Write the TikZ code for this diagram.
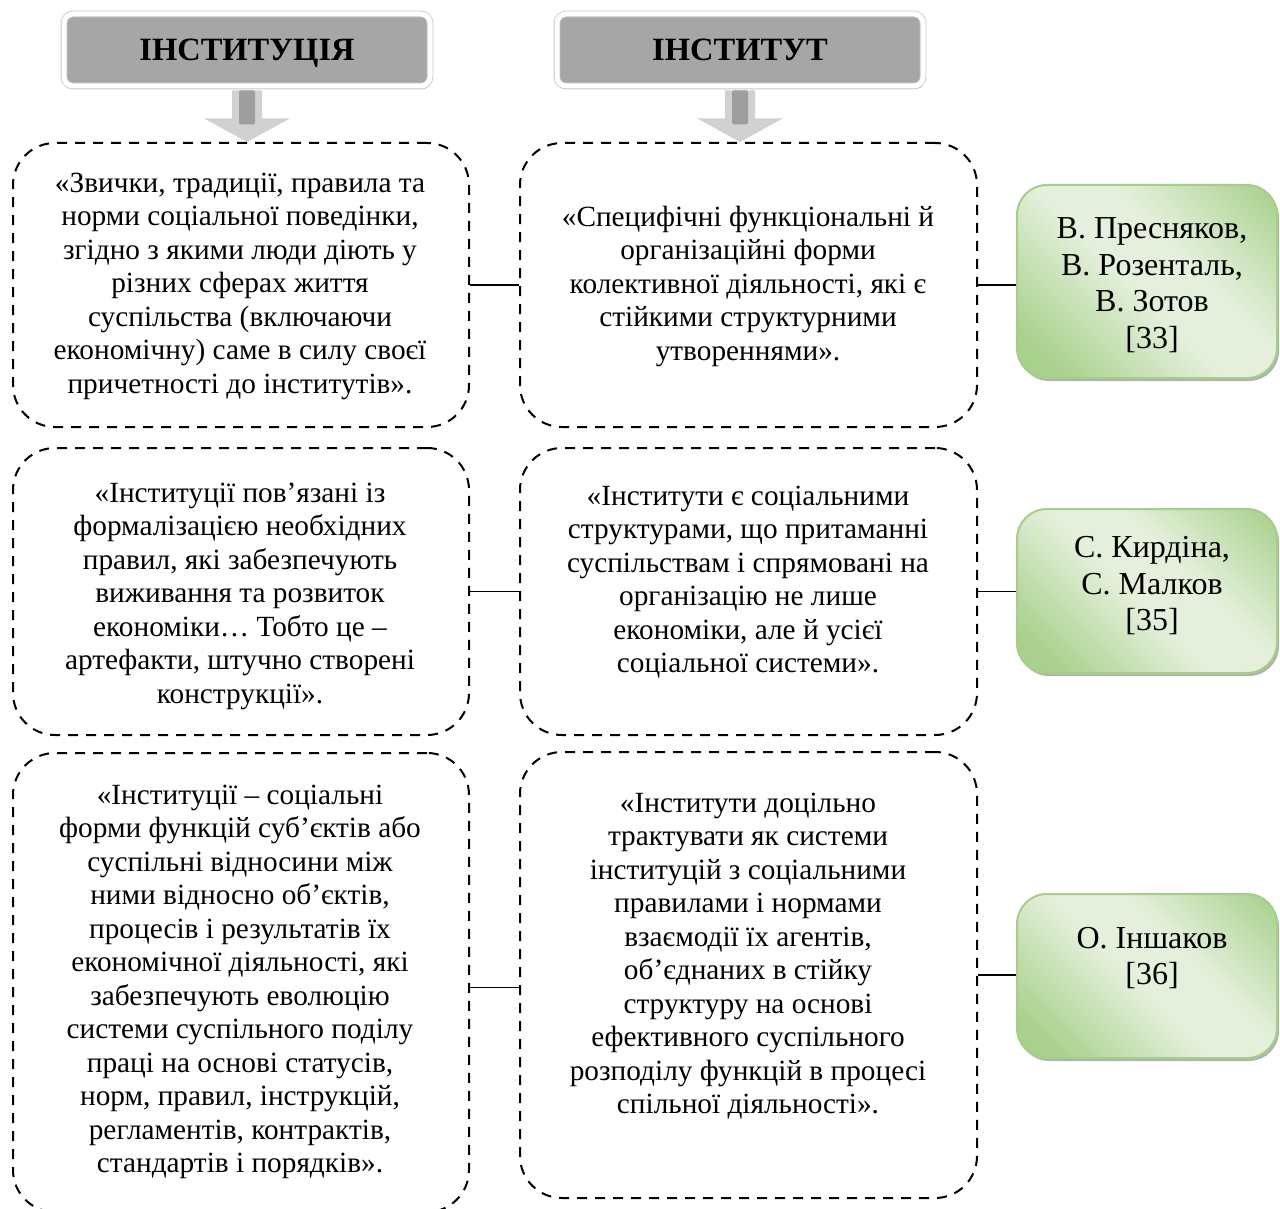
\documentclass[tikz,border=0pt]{standalone}
\usepackage{fontspec}
\setmainfont{Liberation Serif}
\usetikzlibrary{shadows,calc}
\definecolor{hdrgray}{HTML}{A6A6A6}
\definecolor{gdark}{HTML}{A9D18E}
\definecolor{glight}{HTML}{E4F0DB}
\definecolor{gborder}{HTML}{A3CF88}
\pgfdeclarehorizontalshading{greenband}{100bp}{color(0bp)=(gdark); color(22bp)=(gdark); color(47bp)=(glight); color(60bp)=(glight); color(84bp)=(gdark); color(100bp)=(gdark)}
\tikzset{
  txt/.style={font=\fontsize{29.3}{33.5}\selectfont, align=center, inner sep=0pt},
  gtxt/.style={font=\fontsize{32}{36.5}\selectfont, align=center, inner sep=0pt},
  hdr/.style={draw=black!22, line width=0.8pt, double=white, double distance=5pt, fill=hdrgray, rounded corners=9pt,
    minimum width=366pt, minimum height=72pt, text height=22pt, text depth=0pt,
    font=\bfseries\fontsize{32.5}{36}\selectfont,
    drop shadow={shadow xshift=1.5pt, shadow yshift=-3pt, fill=black!45, opacity=0.7}},
  dbox/.style={draw=black, line width=2pt, dash pattern=on 10pt off 8pt, rounded corners=42pt, inner sep=0pt},
  gbox/.style={draw=gborder, line width=2pt, rounded corners=30pt, shading=greenband, shading angle=45, inner sep=0pt,
    minimum width=260pt, drop shadow={shadow xshift=2pt, shadow yshift=-3pt, fill=black!50, opacity=0.6}},
  conn/.style={draw=black, line width=1.6pt},
  arrowout/.style={fill=black!18},
  arrowin/.style={fill=black!38}
}
\begin{document}
\begin{tikzpicture}[x=1pt,y=-1pt]
\useasboundingbox (0,0) rectangle (1280,1209);
\clip (0,0) rectangle (1280,1209);
\fill[white] (0,0) rectangle (1280,1209);

% headers
\node[hdr] (H1) at (247,50) {ІНСТИТУЦІЯ};
\node[hdr] (H2) at (740,50) {ІНСТИТУТ};

% dashed boxes
\node[dbox, minimum width=456pt, minimum height=284pt] (L1) at (241,285) {};
\node[dbox, minimum width=457pt, minimum height=284pt] (R1) at (748.5,285) {};
\node[dbox, minimum width=456pt, minimum height=287pt] (L2) at (241,591.5) {};
\node[dbox, minimum width=457pt, minimum height=287pt] (R2) at (748.5,591.5) {};
\node[dbox, minimum width=456pt, minimum height=459pt] (L3) at (241,982.5) {};
\node[dbox, minimum width=457pt, minimum height=446pt] (R3) at (748.5,975) {};

% block arrows
\foreach \h/\b in {H1/L1, H2/R1}{
  \fill[arrowout] ($(\h.south)+(-15,4)$) -- ($(\h.south)+(15,4)$) -- ($(\h.south)+(15,32)$)
     -- ($(\h.south)+(43,32)$) -- (\h.south |- \b.north) -- ($(\h.south)+(-43,32)$)
     -- ($(\h.south)+(-15,32)$) -- cycle;
  \fill[arrowin, rounded corners=2pt] ($(\h.south)+(-8,4)$) rectangle ($(\h.south)+(8,38)$);
}

% quote texts
\node[txt] (tL1) at (240,286) {«Звички, традиції, правила та\\норми соціальної поведінки,\\згідно з якими люди діють у\\різних сферах життя\\суспільства (включаючи\\економічну) саме в силу своєї\\причетності до інститутів».};
\node[txt] (tR1) at (748,286) {«Специфічні функціональні й\\організаційні форми\\колективної діяльності, які є\\стійкими структурними\\утвореннями».};
\node[txt] (tL2) at (240,596) {«Інституції пов’язані із\\формалізацією необхідних\\правил, які забезпечують\\виживання та розвиток\\економіки… Тобто це –\\артефакти, штучно створені\\конструкції».};
\node[txt] (tR2) at (748,582) {«Інститути є соціальними\\структурами, що притаманні\\суспільствам і спрямовані на\\організацію не лише\\економіки, але й усієї\\соціальної системи».};
\node[txt] (tL3) at (240,982) {«Інституції – соціальні\\форми функцій суб’єктів або\\суспільні відносини між\\ними відносно об’єктів,\\процесів і результатів їх\\економічної діяльності, які\\забезпечують еволюцію\\системи суспільного поділу\\праці на основі статусів,\\норм, правил, інструкцій,\\регламентів, контрактів,\\стандартів і порядків».};
\node[txt] (tR3) at (748,956) {«Інститути доцільно\\трактувати як системи\\інституцій з соціальними\\правилами і нормами\\взаємодії їх агентів,\\об’єднаних в стійку\\структуру на основі\\ефективного суспільного\\розподілу функцій в процесі\\спільної діяльності».};

% green author boxes
\node[gbox, minimum height=193pt] (G1) at (1147,281.5) {};
\node[gbox, minimum height=164pt] (G2) at (1147,591) {};
\node[gbox, minimum height=164pt] (G3) at (1147,976) {};
\node[gtxt] (tG1) at (1152,285) {В. Пресняков,\\В. Розенталь,\\В. Зотов\\{[33]}};
\node[gtxt] (tG2) at (1152,586) {С. Кирдіна,\\С. Малков\\{[35]}};
\node[gtxt] (tG3) at (1152,958) {О. Іншаков\\{[36]}};

% connectors
\draw[conn] (L1.east) -- (R1.west);
\draw[conn] (R1.east) -- (R1.east -| G1.west);
\draw[conn] (L2.east) -- (R2.west);
\draw[conn] (R2.east) -- (R2.east -| G2.west);
\draw[conn] ([yshift=-5pt]L3.east) -- ([yshift=-5pt]L3.east -| R3.west);
\draw[conn] (R3.east) -- (R3.east -| G3.west);
\end{tikzpicture}
\end{document}
